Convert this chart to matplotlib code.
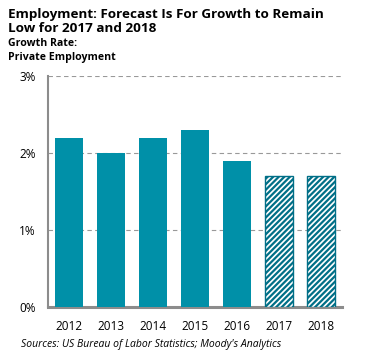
import matplotlib.pyplot as plt
import matplotlib as mpl

# Data
years = ['2012', '2013', '2014', '2015', '2016', '2017', '2018']
growth = [2.2, 2.0, 2.2, 2.3, 1.9, 1.7, 1.7]
forecast = [False, False, False, False, False, True, True]
yticks = [0, 1, 2, 3]

teal = '#0090a8'
mpl.rcParams['font.family'] = ['Open Sans', 'DejaVu Sans']
mpl.rcParams['hatch.linewidth'] = 1.6
mpl.rcParams['hatch.color'] = teal

fig = plt.figure(figsize=(3.7, 3.63), dpi=100)
ax = fig.add_axes([0.131, 0.154, 0.793, 0.636])

for i, (yr, v, fc) in enumerate(zip(years, growth, forecast)):
    if fc:
        ax.bar(i, v, width=0.67, color='white', edgecolor='#006f87',
               hatch='//////', linewidth=1.0, zorder=3)
    else:
        ax.bar(i, v, width=0.67, color=teal, zorder=3)

ax.set_xlim(-0.5, 6.5)
ax.set_ylim(0, 3)
ax.set_yticks(yticks)
ax.set_yticklabels([f'{t}%' for t in yticks], fontsize=8.5)
ax.set_xticks(range(len(years)))
ax.set_xticklabels(years, fontsize=8.5)
ax.tick_params(length=0, pad=9)
ax.tick_params(axis='y', pad=9)
ax.grid(axis='y', color='#999999', linestyle=(0, (4, 3)), linewidth=0.8, zorder=0)

for s in ['top', 'right']:
    ax.spines[s].set_visible(False)
ax.spines['left'].set_color('#8c8c8c')
ax.spines['left'].set_linewidth(1.5)
ax.spines['bottom'].set_color('#8c8c8c')
ax.spines['bottom'].set_linewidth(2.2)

fig.text(0.022, 0.978, 'Employment: Forecast Is For Growth to Remain\nLow for 2017 and 2018',
         fontsize=9.7, fontweight='bold', va='top', ha='left', linespacing=1.1)
fig.text(0.022, 0.895, 'Growth Rate:\nPrivate Employment',
         fontsize=7.6, fontweight='bold', va='top', ha='left', linespacing=1.35)
fig.text(0.058, 0.035, "Sources: US Bureau of Labor Statistics; Moody's Analytics",
         fontsize=7.5, style='italic', va='bottom', ha='left')

fig.savefig('out.png', dpi=100)
